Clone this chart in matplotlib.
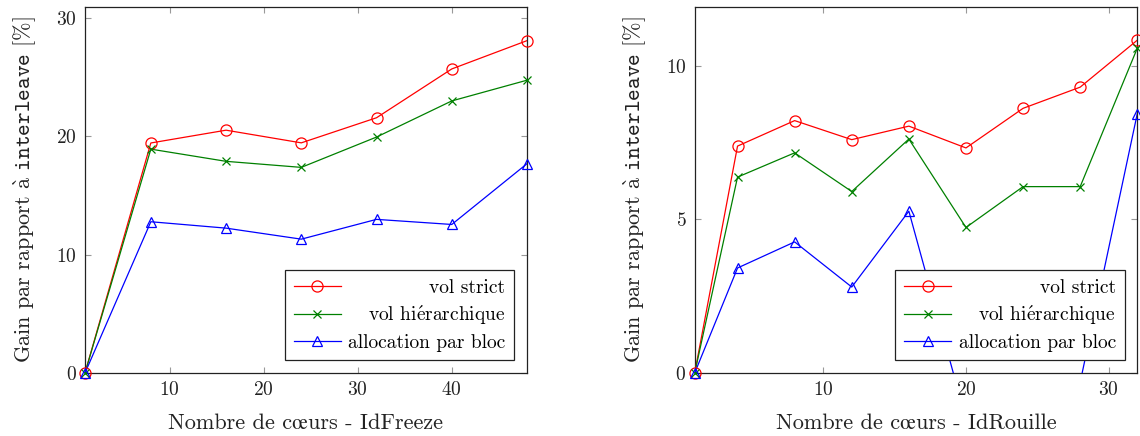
import numpy as np
import matplotlib
matplotlib.use("Agg")
import matplotlib.pyplot as plt

plt.rcParams['font.family'] = ['cmr10', 'STIXGeneral']
plt.rcParams['mathtext.fontset'] = 'cm'
plt.rcParams['axes.formatter.use_mathtext'] = True

# ---- data: IdFreeze ----
x_freeze = [1, 8, 16, 24, 32, 40, 48]
strict_freeze = [0, 19.42, 20.5, 19.43, 21.55, 25.67, 28.06]
hier_freeze = [0, 18.9, 17.87, 17.36, 19.92, 22.97, 24.72]
bloc_freeze = [0, 12.77, 12.23, 11.3, 12.97, 12.54, 17.67]

# ---- data: IdRouille ----
x_rouille = [1, 4, 8, 12, 16, 20, 24, 28, 32]
strict_rouille = [0, 7.39, 8.22, 7.6, 8.04, 7.33, 8.62, 9.31, 10.84]
hier_rouille = [0, 6.38, 7.17, 5.91, 7.62, 4.74, 6.07, 6.07, 10.58]
bloc_rouille = [0, 3.42, 4.27, 2.8, 5.27, -1.5, -2.0, -0.3, 8.45]

series_labels = ["vol strict", r"vol hi$\mathrm{\'e}$rarchique", "allocation par bloc"]
ylabel_text = r"Gain par rapport $\mathrm{\`a}$ $\mathtt{interleave}$ [%]"
xlabel_freeze = "Nombre de cœurs - IdFreeze"
xlabel_rouille = "Nombre de cœurs - IdRouille"

colors = ["#ff0000", "#008000", "#0000ff"]
markers = ["o", "x", "^"]
msizes = [8, 5.5, 7]

W, H = 1140, 436
fig = plt.figure(figsize=(W / 100, H / 100), dpi=100)
ax1 = fig.add_axes([85 / W, 1 - 373 / H, 442 / W, 366 / H])
ax2 = fig.add_axes([694.7 / W, 1 - 373 / H, 442.6 / W, 366 / H])

panels = [
    (ax1, x_freeze, [strict_freeze, hier_freeze, bloc_freeze], (1, 48), (0, 30.9),
     [10, 20, 30, 40], [0, 10, 20, 30], xlabel_freeze),
    (ax2, x_rouille, [strict_rouille, hier_rouille, bloc_rouille], (1, 32), (0, 11.92),
     [10, 20, 30], [0, 5, 10], xlabel_rouille),
]

legends = []
for ax, xs, ys_list, xl, yl, xt, yt, xlabel in panels:
    handles = []
    for ys, c, m, ms, lab in zip(ys_list, colors, markers, msizes, series_labels):
        ys = np.asarray(ys, dtype=float)
        ax.plot(xs, ys, color=c, lw=0.9, zorder=3)
        visible = np.where((ys >= yl[0]) & (ys <= yl[1]), ys, np.nan)
        ax.plot(xs, visible, ls='none', marker=m, ms=ms, mfc='none', mec=c,
                mew=0.9, clip_on=False, zorder=4)
        h, = ax.plot([], [], color=c, lw=0.9, marker=m, ms=ms, mfc='none',
                     mec=c, mew=0.9)
        handles.append(h)
    ax.set_xlim(*xl)
    ax.set_ylim(*yl)
    ax.set_xticks(xt)
    ax.set_yticks(yt)
    ax.tick_params(direction='in', top=True, right=True, length=4.5, width=0.8,
                   color='#999999', labelsize=14, pad=6, labelcolor='#222222')
    for s in ax.spines.values():
        s.set_linewidth(0.9)
        s.set_color('#222222')
    ax.set_xlabel(xlabel, fontsize=16, labelpad=10, color='#222222')
    ax.set_ylabel(ylabel_text, fontsize=16, labelpad=13, color='#222222')
    leg = ax.legend(handles, series_labels, loc='lower right', fontsize=14,
                    frameon=True, fancybox=False, edgecolor='#222222',
                    framealpha=1, borderaxespad=0.65, handlelength=2.4,
                    handletextpad=0.4, labelspacing=0.35, borderpad=0.45)
    leg.get_frame().set_linewidth(0.9)
    legends.append(leg)

# right-align legend labels
fig.canvas.draw()
renderer = fig.canvas.get_renderer()
for leg in legends:
    texts = leg.get_texts()
    widths = [t.get_window_extent(renderer).width for t in texts]
    wmax = max(widths)
    for t, w in zip(texts, widths):
        t.set_x(wmax - w)

fig.savefig("out.png", dpi=100)
